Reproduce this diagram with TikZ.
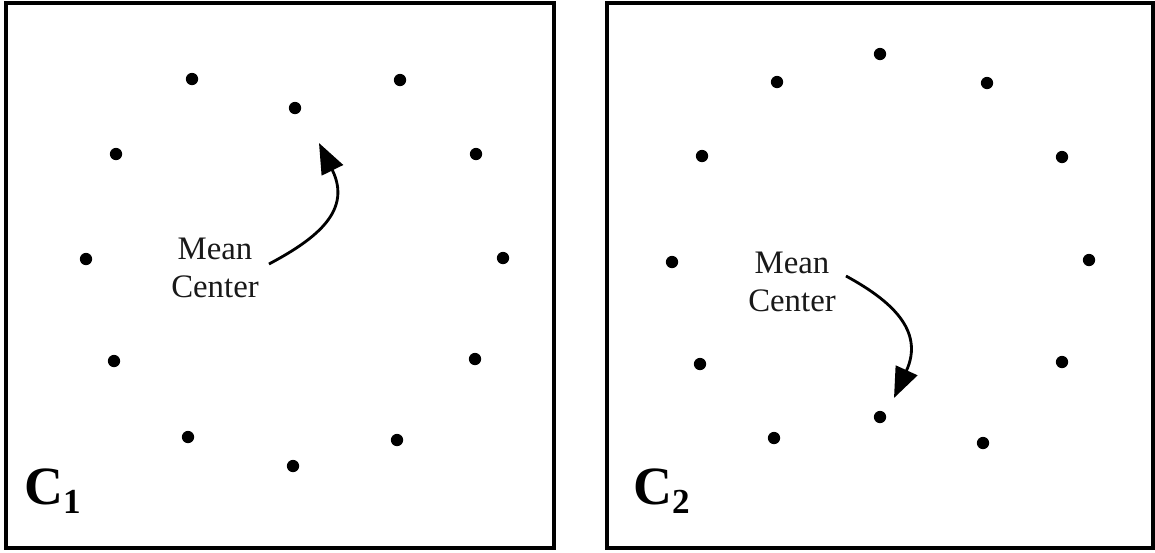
\documentclass[tikz,border=0pt]{standalone}
\usepackage{fontspec}
\setmainfont{Liberation Serif}
\usetikzlibrary{arrows.meta}
\begin{document}
\begin{tikzpicture}[
    x=0.03cm, y=-0.03cm,
    frame/.style={
        draw=black,
        line width=2.6pt
    },
    point/.style={
        circle,
        fill=black,
        minimum size=10.5pt,
        inner sep=0pt
    },
    caption/.style={
        font=\fontsize{28}{32}\selectfont,
        align=center,
        text=black!90,
        inner sep=0pt
    },
    panel/.style={
        font=\fontsize{46}{46}\selectfont\bfseries,
        anchor=base west,
        inner sep=0pt
    },
    meanarrow/.style={
        -{Triangle[length=26pt, width=20pt]},
        line width=2.4pt
    }
]
\useasboundingbox[fill=white] (0,0) rectangle (1155,552);

% Panel C1: points on a ring, mean centre pulled up
\draw[frame] (6,3) rectangle (554,548);
\foreach \px/\py [count=\i] in {
    192/79, 400/80, 295/108, 116/154, 476/154, 86/259,
    503/258, 114/361, 475/359, 188/437, 397/440, 293/466
}{
    \node[point] (a\i) at (\px,\py) {};
}
\node[caption] (mc1) at (215,268) {Mean\\Center};
\coordinate (tip1) at (319,143);
\draw[meanarrow] (mc1.east) ++(10,-4) .. controls (318,238) and (352,210) .. (tip1);
\node[panel] (c1) at (24,504) {C\raisebox{-8pt}{\fontsize{30}{30}\selectfont 1}};

% Panel C2: points on a ring, mean centre pulled down
\draw[frame] (607,3) rectangle (1153,548);
\foreach \px/\py [count=\i] in {
    880/54, 777/82, 987/83, 702/156, 1062/157, 672/262,
    1089/260, 700/364, 1062/362, 774/438, 880/417, 983/443
}{
    \node[point] (b\i) at (\px,\py) {};
}
\node[caption] (mc2) at (792,282) {Mean\\Center};
\coordinate (tip2) at (894,398);
\draw[meanarrow] (mc2.east) ++(10,-6) .. controls (890,300) and (925,330) .. (tip2);
\node[panel] (c2) at (633,504) {C\raisebox{-8pt}{\fontsize{30}{30}\selectfont 2}};
\end{tikzpicture}
\end{document}
